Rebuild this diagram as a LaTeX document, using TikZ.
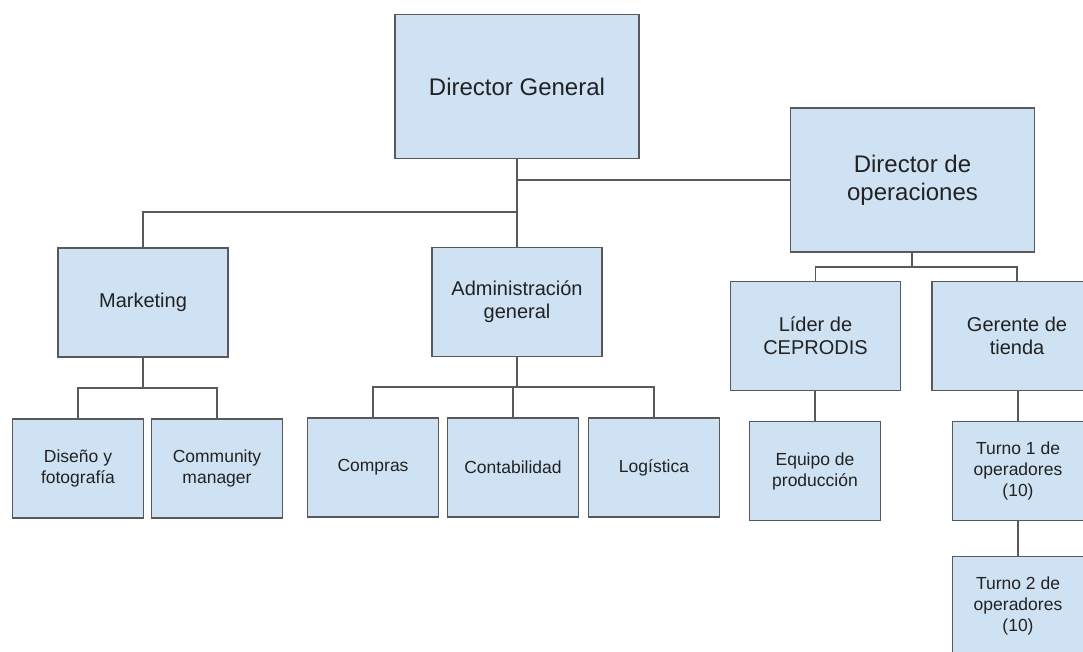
\documentclass[tikz,border=0pt]{standalone}
\usepackage{fontspec}
\setmainfont{Liberation Sans}
\definecolor{chartblue}{rgb}{0.811765, 0.886275, 0.952941}
\definecolor{chartline}{rgb}{0.34902, 0.34902, 0.34902}
\definecolor{charttext}{rgb}{0.133333, 0.133333, 0.133333}

\begin{document}
\begin{tikzpicture}[x=1pt, y=-1pt,
        box/.style={draw=chartline, fill=chartblue, line width=1.4pt, inner sep=0pt, align=center, text=charttext},
        bigbox/.style={box, minimum width=244pt, minimum height=144pt, font=\fontsize{24}{27.6}\selectfont},
        midbox/.style={box, minimum width=170pt, minimum height=109pt, font=\fontsize{20}{23}\selectfont},
        smallbox/.style={box, minimum width=131pt, minimum height=99pt, font=\fontsize{17.5}{21}\selectfont},
        link/.style={draw=chartline, line width=1.6pt}]
        \fill [white, use as bounding box] (0, 0) rectangle (1083, 651);
        \clip (0, 0) rectangle (1083, 651);
        \begin{scope}
            \node [bigbox] (DG) at (517, 86.5) {Director General};
            \node [bigbox] (DO) at (912.5, 180) {Director de\\operaciones};

            \node [midbox] (Mk) at (143, 302.5) {Marketing};
            \node [midbox] (Ad) at (517, 302) {Administración\\general};
            \node [midbox] (Li) at (815.5, 336) {Líder de\\CEPRODIS};
            \node [midbox] (Ge) at (1017, 336) {Gerente de\\tienda};

            \node [smallbox] (Di) at (78, 468.5) {Diseño y\\fotografía};
            \node [smallbox] (Cm) at (217, 468.5) {Community\\manager};
            \node [smallbox] (Cp) at (373, 467.5) {Compras};
            \node [smallbox] (Ct) at (513, 467.5) {Contabilidad};
            \node [smallbox] (Lg) at (654, 467.5) {Logística};
            \node [smallbox] (Eq) at (815, 471) {Equipo de\\producción};
            \node [smallbox] (T1) at (1018, 471) {Turno 1 de\\operadores\\(10)};
            \node [smallbox] (T2) at (1018, 606) {Turno 2 de\\operadores\\(10)};

            \coordinate (jDG) at (517, 212);
            \coordinate (jMk) at (143, 388);
            \coordinate (jAd) at (517, 387);
            \coordinate (jDO) at (912, 267);

            \draw [link] (DG.south) -- (Ad.north);
            \draw [link] (DG.south |- DO.west) -- (DO.west);
            \draw [link] (jDG) -| (Mk.north);

            \draw [link] (Mk.south) -- (jMk);
            \draw [link] (jMk) -| (Di.north);
            \draw [link] (jMk) -| (Cm.north);

            \draw [link] (Ad.south) -- (jAd);
            \draw [link] (jAd) -| (Cp.north);
            \draw [link] (jAd) -| (Ct.north);
            \draw [link] (jAd) -| (Lg.north);

            \draw [link] (DO.south -| jDO) -- (jDO);
            \draw [link] (jDO) -| (Li.north);
            \draw [link] (jDO) -| (Ge.north);

            \draw [link] (Li.south -| Eq.north) -- (Eq.north);
            \draw [link] (Ge.south -| T1.north) -- (T1.north);
            \draw [link] (T1.south) -- (T2.north);
        \end{scope}
    \end{tikzpicture}
\end{document}
